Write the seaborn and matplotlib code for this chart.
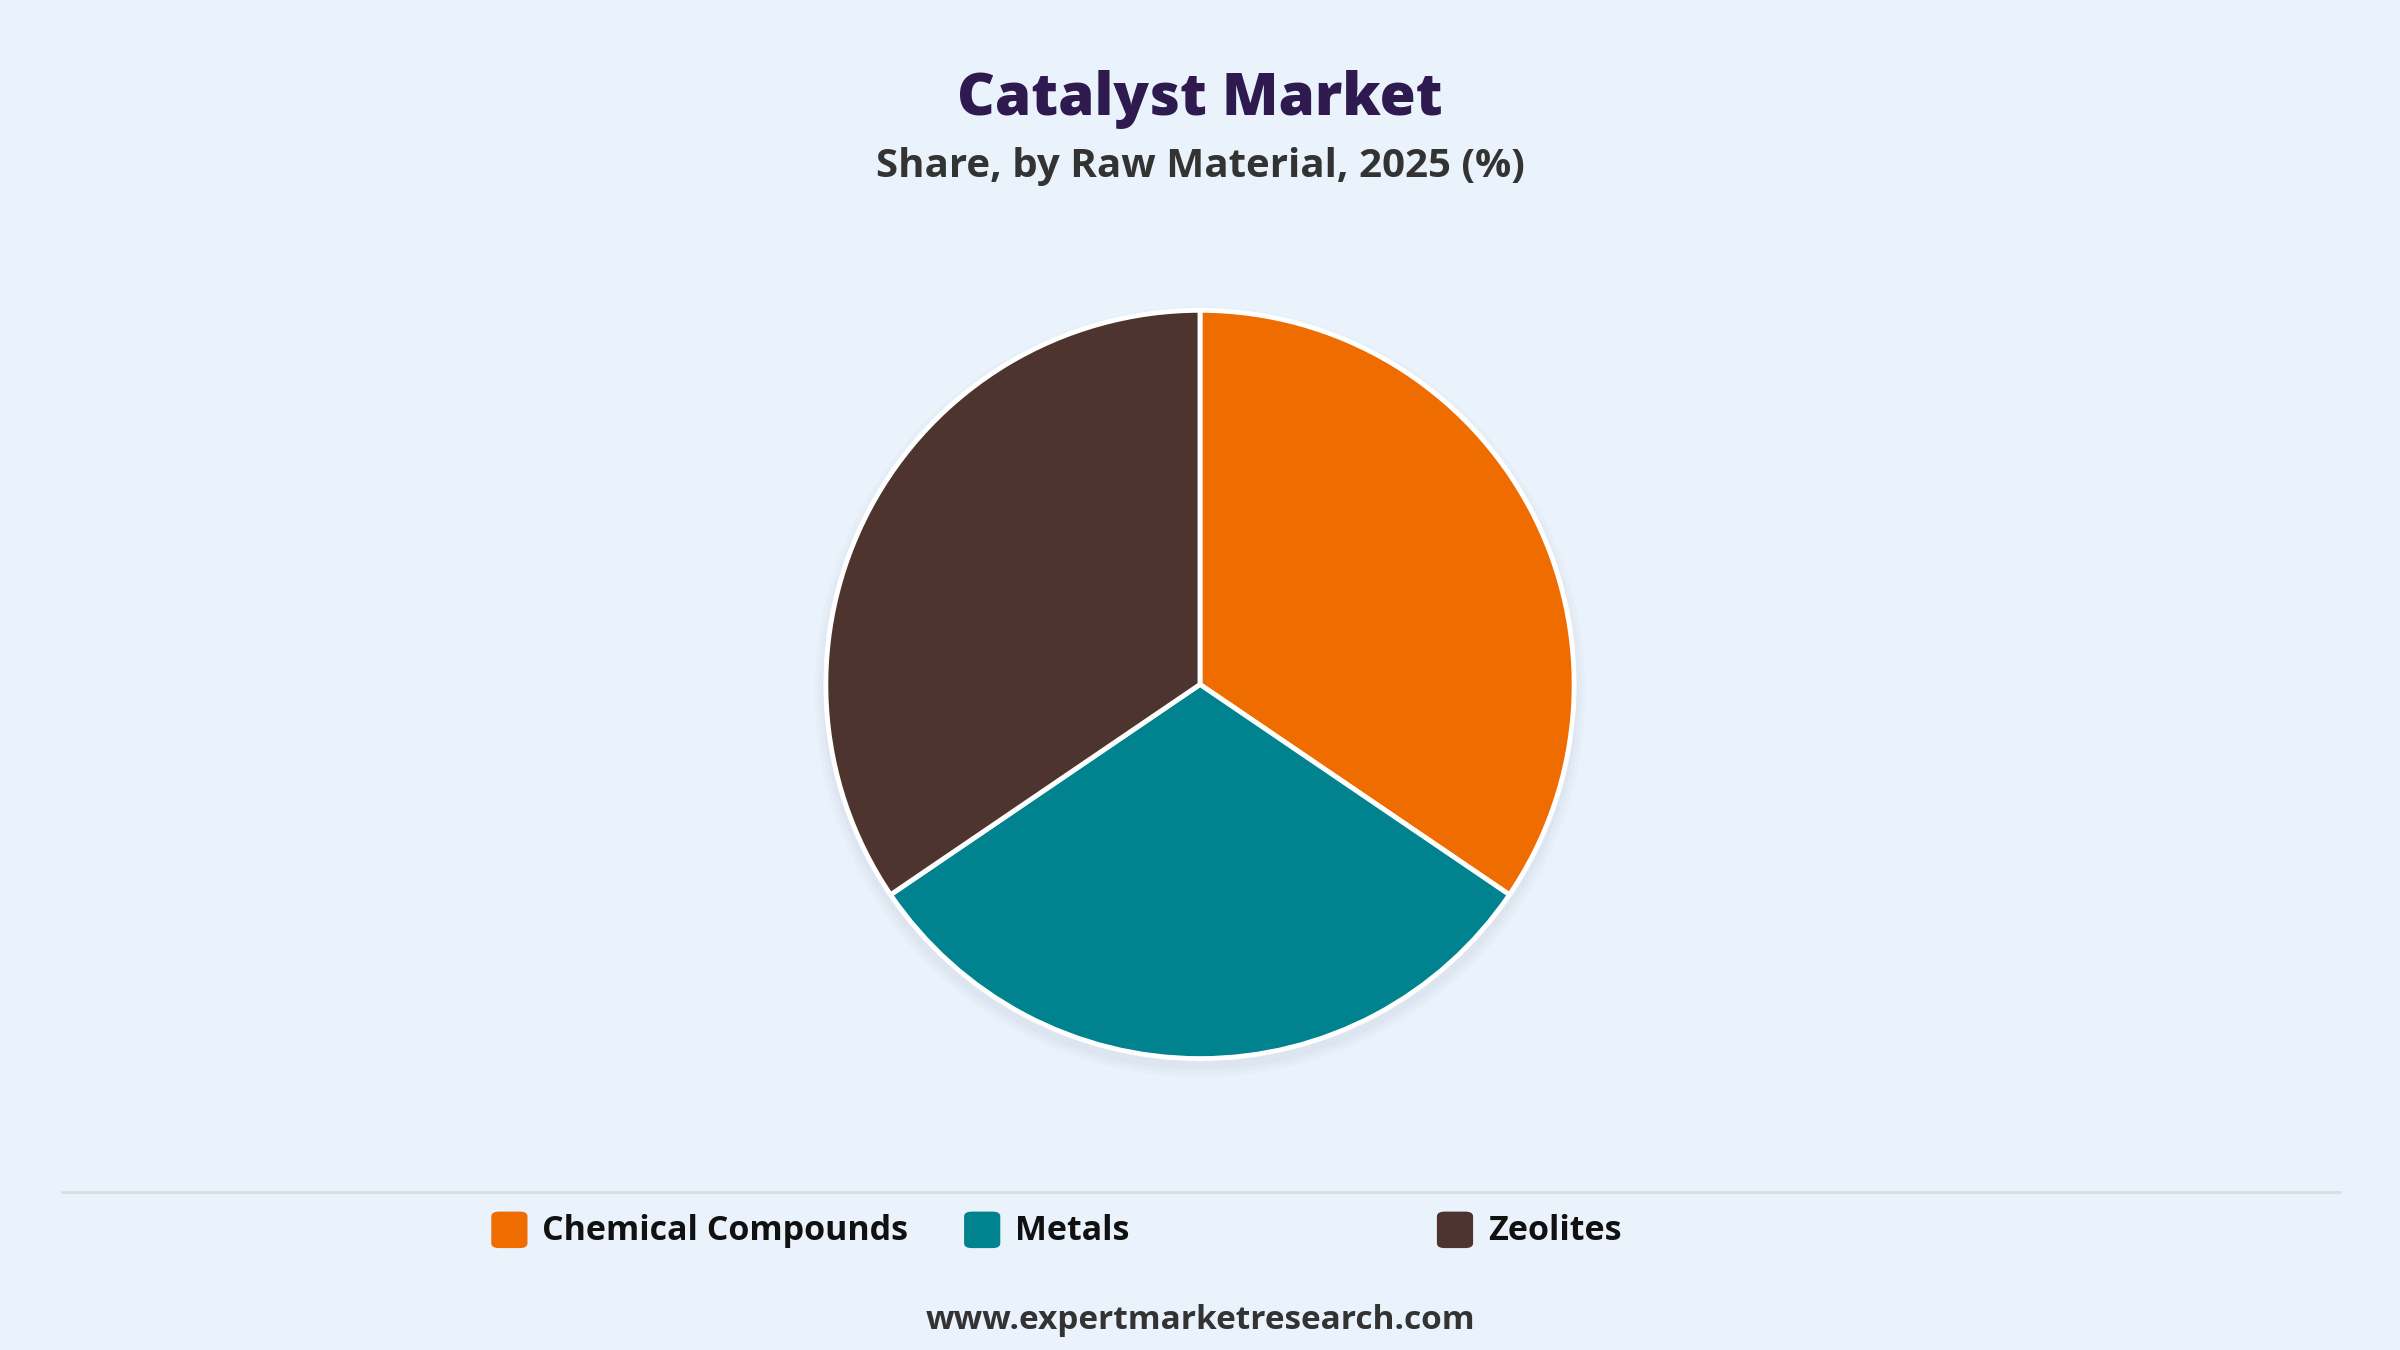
import matplotlib
matplotlib.use("Agg")
import matplotlib.pyplot as plt
import seaborn as sns
from matplotlib.patches import FancyBboxPatch, Circle

sns.set_theme(style="white")
plt.rcParams['font.family'] = ['Open Sans', 'DejaVu Sans']

categories = ["Chemical Compounds", "Metals", "Zeolites"]
shares = [34.5, 31.0, 34.5]
colors = ["#EF6C00", "#00838F", "#4E342E"]

bg = "#EAF2FB"
fig = plt.figure(figsize=(24, 13.5), dpi=100, facecolor=bg)
h = 0.582
w = h * 13.5 / 24
ax = fig.add_axes([0.5 - w / 2, 0.493 - h / 2, w, h])
ax.set_facecolor(bg)
for r, a in [(1.03, 0.04), (1.02, 0.05), (1.01, 0.06)]:
    ax.add_patch(Circle((0.0, -0.02), r, color="#9aa5b1", alpha=a, lw=0, zorder=0))
ax.pie(shares, colors=colors, startangle=90, counterclock=False,
       wedgeprops=dict(edgecolor="white", linewidth=3.5))
ax.set_xlim(-1.05, 1.05); ax.set_ylim(-1.05, 1.05)
ax.set_aspect("equal"); ax.axis("off")

fig.text(0.5, 0.926, "Catalyst Market", ha="center", va="center",
         fontsize=42, fontweight="heavy", color="#2E1A4F")
fig.text(0.5, 0.877, "Share, by Raw Material, 2025 (%)", ha="center", va="center",
         fontsize=29, fontweight="bold", color="#333333")
fig.add_artist(plt.Line2D([0.026, 0.975], [0.117, 0.117], color="#d8dde3", lw=2))

xs = [0.205, 0.402, 0.599]
for x, c, lab in zip(xs, colors, categories):
    fig.add_artist(FancyBboxPatch((x, 0.076), 0.0145, 0.026, boxstyle="round,pad=0,rounding_size=0.003",
                                  color=c, transform=fig.transFigure))
    fig.text(x + 0.021, 0.088, lab, ha="left", va="center", fontsize=24.5,
             fontweight="bold", color="#111111")

fig.text(0.5, 0.022, "www.expertmarketresearch.com", ha="center", va="center",
         fontsize=24, fontweight="bold", color="#333333")
fig.savefig("out.png", dpi=100, facecolor=bg)
